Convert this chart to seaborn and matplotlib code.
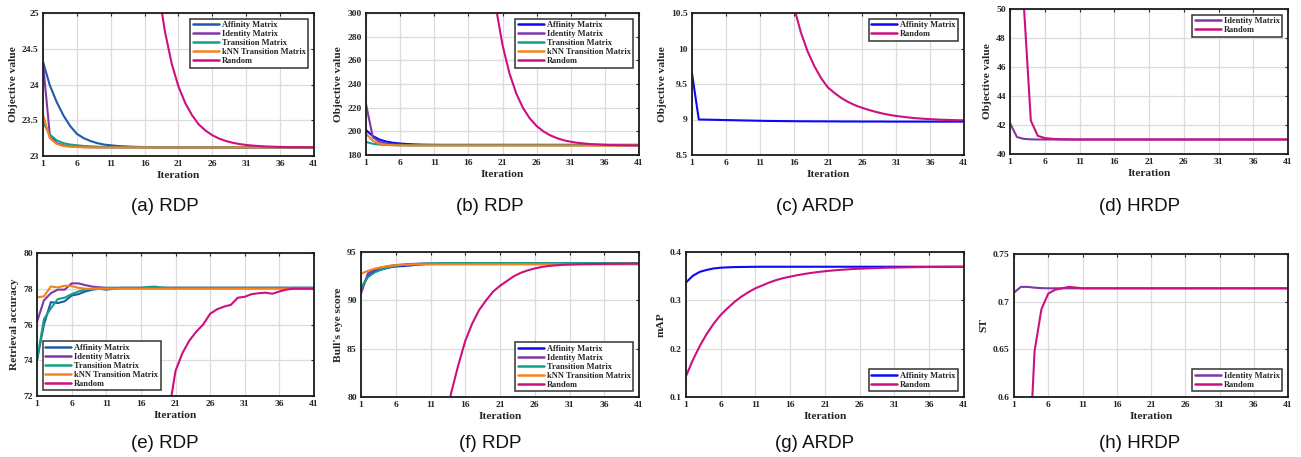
import matplotlib
matplotlib.use("Agg")
import matplotlib.pyplot as plt
import seaborn as sns

# ---------------- data ----------------
ITERATIONS = list(range(1, 42))
XTICKS = [1, 6, 11, 16, 21, 26, 31, 36, 41]

# (a) RDP objective value
a_affinity = [24.32, 23.99, 23.76, 23.57, 23.42, 23.31, 23.25, 23.21, 23.18, 23.16,
              23.15, 23.14, 23.135, 23.13, 23.127, 23.125, 23.123, 23.122, 23.121, 23.12,
              23.12, 23.12, 23.12, 23.12, 23.12, 23.12, 23.12, 23.12, 23.12, 23.12,
              23.12, 23.12, 23.12, 23.12, 23.12, 23.12, 23.12, 23.12, 23.12, 23.12, 23.12]
a_identity = [24.30, 23.30, 23.18, 23.15, 23.135, 23.128, 23.124, 23.122, 23.121, 23.12,
              23.12, 23.12, 23.12, 23.12, 23.12, 23.12, 23.12, 23.12, 23.12, 23.12,
              23.12, 23.12, 23.12, 23.12, 23.12, 23.12, 23.12, 23.12, 23.12, 23.12,
              23.12, 23.12, 23.12, 23.12, 23.12, 23.12, 23.12, 23.12, 23.12, 23.12, 23.12]
a_transition = [23.47, 23.30, 23.22, 23.18, 23.16, 23.15, 23.14, 23.135, 23.13, 23.127,
                23.125, 23.123, 23.122, 23.121, 23.12, 23.12, 23.12, 23.12, 23.12, 23.12,
                23.12, 23.12, 23.12, 23.12, 23.12, 23.12, 23.12, 23.12, 23.12, 23.12,
                23.12, 23.12, 23.12, 23.12, 23.12, 23.12, 23.12, 23.12, 23.12, 23.12, 23.12]
a_knn = [23.58, 23.25, 23.17, 23.14, 23.13, 23.125, 23.122, 23.121, 23.12, 23.12,
         23.12, 23.12, 23.12, 23.12, 23.12, 23.12, 23.12, 23.12, 23.12, 23.12,
         23.12, 23.12, 23.12, 23.12, 23.12, 23.12, 23.12, 23.12, 23.12, 23.12,
         23.12, 23.12, 23.12, 23.12, 23.12, 23.12, 23.12, 23.12, 23.12, 23.12, 23.12]
a_random = [551, 406, 301, 224, 169, 129, 100, 79, 63, 52,
            44.3, 38.5, 34.2, 31.2, 29.0, 27.4, 26.2, 25.35, 24.74, 24.29,
            23.97, 23.74, 23.57, 23.44, 23.355, 23.29, 23.243, 23.21, 23.185, 23.167,
            23.154, 23.145, 23.138, 23.133, 23.13, 23.127, 23.125, 23.124, 23.123, 23.122, 23.121]

# (b) RDP objective value
b_affinity = [201, 196, 193, 191.3, 190.3, 189.7, 189.3, 189.0, 188.8, 188.7,
              188.65, 188.6, 188.6, 188.6, 188.6, 188.6, 188.6, 188.6, 188.6, 188.6,
              188.6, 188.6, 188.6, 188.6, 188.6, 188.6, 188.6, 188.6, 188.6, 188.6,
              188.6, 188.6, 188.6, 188.6, 188.6, 188.6, 188.6, 188.6, 188.6, 188.6, 188.6]
b_identity = [223, 195, 191, 189.6, 189.0, 188.7, 188.5, 188.4, 188.4, 188.4,
              188.4, 188.4, 188.4, 188.4, 188.4, 188.4, 188.4, 188.4, 188.4, 188.4,
              188.4, 188.4, 188.4, 188.4, 188.4, 188.4, 188.4, 188.4, 188.4, 188.4,
              188.4, 188.4, 188.4, 188.4, 188.4, 188.4, 188.4, 188.4, 188.4, 188.4, 188.4]
b_transition = [191, 189.5, 188.8, 188.5, 188.3, 188.2, 188.2, 188.2, 188.2, 188.2,
                188.2, 188.2, 188.2, 188.2, 188.2, 188.2, 188.2, 188.2, 188.2, 188.2,
                188.2, 188.2, 188.2, 188.2, 188.2, 188.2, 188.2, 188.2, 188.2, 188.2,
                188.2, 188.2, 188.2, 188.2, 188.2, 188.2, 188.2, 188.2, 188.2, 188.2, 188.2]
b_knn = [198, 192, 189.5, 188.6, 188.3, 188.1, 188.0, 188.0, 188.0, 188.0,
         188.0, 188.0, 188.0, 188.0, 188.0, 188.0, 188.0, 188.0, 188.0, 188.0,
         188.0, 188.0, 188.0, 188.0, 188.0, 188.0, 188.0, 188.0, 188.0, 188.0,
         188.0, 188.0, 188.0, 188.0, 188.0, 188.0, 188.0, 188.0, 188.0, 188.0, 188.0]
b_random = [9000, 7000, 5500, 4300, 3400, 2700, 2150, 1750, 1450, 1210,
            1020, 870, 750, 640, 560, 490, 430, 385, 345, 306,
            273, 249.4, 232.2, 219.8, 210.9, 204.5, 199.9, 196.6, 194.2, 192.4,
            191.2, 190.3, 189.7, 189.2, 188.9, 188.6, 188.4, 188.3, 188.2, 188.15, 188.1]

# (c) ARDP objective value
c_affinity = [9.65, 9.0, 8.998, 8.996, 8.994, 8.992, 8.99, 8.988, 8.986, 8.984,
              8.982, 8.98, 8.979, 8.978, 8.977, 8.976, 8.975, 8.975, 8.974, 8.974,
              8.973, 8.973, 8.972, 8.972, 8.972, 8.971, 8.971, 8.971, 8.971, 8.97,
              8.97, 8.97, 8.97, 8.97, 8.97, 8.97, 8.97, 8.97, 8.97, 8.97, 8.97]
c_random = [90, 70, 55, 44, 36, 30, 25, 21.5, 18.7, 16.5,
            14.8, 13.5, 12.5, 11.7, 11.1, 10.58, 10.23, 9.96, 9.75, 9.58,
            9.45, 9.37, 9.30, 9.245, 9.2, 9.165, 9.135, 9.108, 9.085, 9.066,
            9.05, 9.038, 9.027, 9.018, 9.011, 9.005, 9.0, 8.996, 8.993, 8.99, 8.988]

# (d) HRDP objective value
d_identity = [42.13, 41.17, 41.04, 41.01, 41.0, 41.0, 41.0, 41.0, 41.0, 41.0,
              41.0, 41.0, 41.0, 41.0, 41.0, 41.0, 41.0, 41.0, 41.0, 41.0,
              41.0, 41.0, 41.0, 41.0, 41.0, 41.0, 41.0, 41.0, 41.0, 41.0,
              41.0, 41.0, 41.0, 41.0, 41.0, 41.0, 41.0, 41.0, 41.0, 41.0, 41.0]
d_random = [120, 85, 50.2, 42.3, 41.25, 41.1, 41.05, 41.02, 41.01, 41.0,
            41.0, 41.0, 41.0, 41.0, 41.0, 41.0, 41.0, 41.0, 41.0, 41.0,
            41.0, 41.0, 41.0, 41.0, 41.0, 41.0, 41.0, 41.0, 41.0, 41.0,
            41.0, 41.0, 41.0, 41.0, 41.0, 41.0, 41.0, 41.0, 41.0, 41.0, 41.0]

# (e) RDP retrieval accuracy
e_affinity = [74.0, 76.0, 77.25, 77.2, 77.3, 77.62, 77.7, 77.85, 77.95, 78.0,
              77.95, 78.0, 78.05, 78.05, 78.05, 78.05, 78.05, 78.05, 78.05, 78.05,
              78.05, 78.05, 78.05, 78.05, 78.05, 78.05, 78.05, 78.05, 78.05, 78.05,
              78.05, 78.05, 78.05, 78.05, 78.05, 78.05, 78.05, 78.05, 78.05, 78.05, 78.05]
e_identity = [76.15, 77.35, 77.75, 77.95, 77.95, 78.3, 78.3, 78.2, 78.12, 78.08,
              78.05, 78.05, 78.05, 78.05, 78.05, 78.05, 78.05, 78.05, 78.05, 78.05,
              78.05, 78.05, 78.05, 78.05, 78.05, 78.05, 78.05, 78.05, 78.05, 78.05,
              78.05, 78.05, 78.05, 78.05, 78.05, 78.05, 78.05, 78.05, 78.05, 78.05, 78.05]
e_transition = [74.0, 76.3, 76.9, 77.42, 77.5, 77.7, 77.85, 77.95, 78.0, 78.05,
                78.05, 78.05, 78.05, 78.05, 78.05, 78.05, 78.1, 78.12, 78.07, 78.05,
                78.05, 78.05, 78.05, 78.05, 78.05, 78.05, 78.05, 78.05, 78.05, 78.05,
                78.05, 78.05, 78.05, 78.05, 78.05, 78.05, 78.05, 78.05, 78.05, 78.05, 78.05]
e_knn = [77.52, 77.57, 78.13, 78.07, 78.17, 78.15, 78.05, 78.0, 78.0, 78.0,
         78.0, 78.0, 78.0, 78.0, 78.0, 78.0, 78.0, 78.0, 78.0, 78.0,
         78.0, 78.0, 78.0, 78.0, 78.0, 78.0, 78.0, 78.0, 78.0, 78.0,
         78.0, 78.0, 78.0, 78.0, 78.0, 78.0, 78.0, 78.0, 78.0, 78.0, 78.0]
e_random = [40, 45, 49, 52, 55, 57.5, 59.5, 61.3, 62.9, 64.3,
            65.5, 66.5, 67.4, 68.2, 68.9, 69.5, 70.0, 70.4, 70.7, 71.0,
            73.4, 74.4, 75.1, 75.6, 76.0, 76.6, 76.85, 77.0, 77.1, 77.5,
            77.55, 77.7, 77.75, 77.78, 77.72, 77.85, 77.95, 78.0, 78.0, 78.0, 78.0]

# (f) RDP bull's eye score
f_affinity = [91.2, 92.5, 93.0, 93.2, 93.4, 93.5, 93.55, 93.6, 93.68, 93.73,
              93.76, 93.78, 93.8, 93.8, 93.8, 93.8, 93.8, 93.8, 93.8, 93.8,
              93.8, 93.8, 93.8, 93.8, 93.8, 93.8, 93.8, 93.8, 93.8, 93.8,
              93.8, 93.8, 93.8, 93.8, 93.8, 93.8, 93.8, 93.8, 93.8, 93.8, 93.8]
f_identity = [90.7, 92.8, 93.2, 93.4, 93.55, 93.65, 93.7, 93.75, 93.78, 93.8,
              93.8, 93.8, 93.8, 93.8, 93.8, 93.8, 93.8, 93.8, 93.8, 93.8,
              93.8, 93.8, 93.8, 93.8, 93.8, 93.8, 93.8, 93.8, 93.8, 93.8,
              93.8, 93.8, 93.8, 93.8, 93.8, 93.8, 93.8, 93.8, 93.8, 93.8, 93.8]
f_transition = [91.3, 92.4, 92.9, 93.2, 93.4, 93.55, 93.65, 93.72, 93.77, 93.8,
                93.82, 93.84, 93.85, 93.85, 93.85, 93.85, 93.85, 93.85, 93.85, 93.85,
                93.85, 93.85, 93.85, 93.85, 93.85, 93.85, 93.85, 93.85, 93.85, 93.85,
                93.85, 93.85, 93.85, 93.85, 93.85, 93.85, 93.85, 93.85, 93.85, 93.85, 93.85]
f_knn = [92.75, 93.05, 93.28, 93.43, 93.55, 93.63, 93.68, 93.7, 93.72, 93.72,
         93.72, 93.72, 93.72, 93.72, 93.72, 93.72, 93.72, 93.72, 93.72, 93.72,
         93.72, 93.72, 93.72, 93.72, 93.72, 93.72, 93.72, 93.72, 93.72, 93.72,
         93.72, 93.72, 93.72, 93.72, 93.72, 93.72, 93.72, 93.72, 93.72, 93.72, 93.72]
f_random = [10, 18, 25.5, 32.5, 39, 45, 50.5, 55.5, 60.5, 65,
            69.3, 73.5, 77.2, 80.5, 83.3, 85.8, 87.6, 89.0, 90.0, 90.9,
            91.5, 92.0, 92.5, 92.85, 93.1, 93.3, 93.45, 93.55, 93.62, 93.67,
            93.7, 93.72, 93.74, 93.75, 93.76, 93.77, 93.78, 93.78, 93.79, 93.79, 93.8]

# (g) ARDP mAP
g_affinity = [0.337, 0.351, 0.359, 0.363, 0.366, 0.3675, 0.3683, 0.3688, 0.369, 0.3692,
              0.3694, 0.3695, 0.3695, 0.3695, 0.3695, 0.3695, 0.3695, 0.3695, 0.3695, 0.3695,
              0.3695, 0.3695, 0.3695, 0.3695, 0.3695, 0.3695, 0.3695, 0.3695, 0.3695, 0.3695,
              0.3695, 0.3695, 0.3695, 0.3695, 0.3695, 0.3695, 0.3695, 0.3695, 0.3695, 0.3695, 0.3695]
g_random = [0.143, 0.177, 0.206, 0.231, 0.252, 0.27, 0.284, 0.297, 0.308, 0.317,
            0.325, 0.331, 0.337, 0.342, 0.346, 0.349, 0.352, 0.3545, 0.3567, 0.3586,
            0.3602, 0.3616, 0.3628, 0.3638, 0.3647, 0.3654, 0.366, 0.3666, 0.367, 0.3675,
            0.3678, 0.3681, 0.3684, 0.3686, 0.3688, 0.369, 0.3691, 0.3692, 0.3693, 0.3694, 0.3695]

# (h) HRDP ST
h_identity = [0.7095, 0.7155, 0.7155, 0.7147, 0.7142, 0.714, 0.714, 0.714, 0.714, 0.714,
              0.714, 0.714, 0.714, 0.714, 0.714, 0.714, 0.714, 0.714, 0.714, 0.714,
              0.714, 0.714, 0.714, 0.714, 0.714, 0.714, 0.714, 0.714, 0.714, 0.714,
              0.714, 0.714, 0.714, 0.714, 0.714, 0.714, 0.714, 0.714, 0.714, 0.714, 0.714]
h_random = [0.2, 0.35, 0.498, 0.648, 0.692, 0.7085, 0.7125, 0.714, 0.7155, 0.7148,
            0.714, 0.714, 0.714, 0.714, 0.714, 0.714, 0.714, 0.714, 0.714, 0.714,
            0.714, 0.714, 0.714, 0.714, 0.714, 0.714, 0.714, 0.714, 0.714, 0.714,
            0.714, 0.714, 0.714, 0.714, 0.714, 0.714, 0.714, 0.714, 0.714, 0.714, 0.714]

LABELS = ["Affinity Matrix", "Identity Matrix", "Transition Matrix",
          "kNN Transition Matrix", "Random"]
CAPTIONS = ["(a) RDP", "(b) RDP", "(c) ARDP", "(d) HRDP",
            "(e) RDP", "(f) RDP", "(g) ARDP", "(h) HRDP"]

# ---------------- style ----------------
sns.set_style("white")
plt.rcParams["font.family"] = ["Liberation Serif", "DejaVu Sans"]
plt.rcParams["font.weight"] = "bold"

C_AFF_DARK = "#1E5AA8"
C_AFF_BLUE = "#0A0AF5"
C_IDE = "#7E38A8"
C_TRA = "#159F84"
C_KNN = "#F5821F"
C_RND = "#CC1080"
TXT = "#262626"

W, H = 1301, 457
fig = plt.figure(figsize=(W / 100, H / 100), dpi=100)


def px_rect(l, t, r, b):
    return [l / W, 1 - b / H, (r - l) / W, (b - t) / H]


panels = [
    dict(rect=(43, 13, 314, 156), ylim=(23, 25), yt=[23, 23.5, 24, 24.5, 25],
         ytl=["23", "23.5", "24", "24.5", "25"], ylabel="Objective value", loc="upper right",
         series=[(LABELS[0], a_affinity, C_AFF_DARK), (LABELS[1], a_identity, C_IDE),
                 (LABELS[2], a_transition, C_TRA), (LABELS[3], a_knn, C_KNN),
                 (LABELS[4], a_random, C_RND)]),
    dict(rect=(366, 13, 639, 155), ylim=(180, 300), yt=[180, 200, 220, 240, 260, 280, 300],
         ytl=["180", "200", "220", "240", "260", "280", "300"], ylabel="Objective value",
         loc="upper right",
         series=[(LABELS[0], b_affinity, C_AFF_BLUE), (LABELS[1], b_identity, C_IDE),
                 (LABELS[2], b_transition, C_TRA), (LABELS[3], b_knn, C_KNN),
                 (LABELS[4], b_random, C_RND)]),
    dict(rect=(692, 13, 964, 155), ylim=(8.5, 10.5), yt=[8.5, 9, 9.5, 10, 10.5],
         ytl=["8.5", "9", "9.5", "10", "10.5"], ylabel="Objective value", loc="upper right",
         series=[(LABELS[0], c_affinity, C_AFF_BLUE), (LABELS[4], c_random, C_RND)]),
    dict(rect=(1010, 9, 1288, 154), ylim=(40, 50), yt=[40, 42, 44, 46, 48, 50],
         ytl=["40", "42", "44", "46", "48", "50"], ylabel="Objective value", loc="upper right",
         series=[(LABELS[1], d_identity, C_IDE), (LABELS[4], d_random, C_RND)]),
    dict(rect=(37, 253, 314, 396), ylim=(72, 80), yt=[72, 74, 76, 78, 80],
         ytl=["72", "74", "76", "78", "80"], ylabel="Retrieval accuracy", loc="lower left",
         series=[(LABELS[0], e_affinity, C_AFF_DARK), (LABELS[1], e_identity, C_IDE),
                 (LABELS[2], e_transition, C_TRA), (LABELS[3], e_knn, C_KNN),
                 (LABELS[4], e_random, C_RND)]),
    dict(rect=(361, 252, 639, 397), ylim=(80, 95), yt=[80, 85, 90, 95],
         ytl=["80", "85", "90", "95"], ylabel="Bull's eye score", loc="lower right",
         series=[(LABELS[0], f_affinity, C_AFF_BLUE), (LABELS[1], f_identity, C_IDE),
                 (LABELS[2], f_transition, C_TRA), (LABELS[3], f_knn, C_KNN),
                 (LABELS[4], f_random, C_RND)]),
    dict(rect=(686, 252, 964, 397), ylim=(0.1, 0.4), yt=[0.1, 0.2, 0.3, 0.4],
         ytl=["0.1", "0.2", "0.3", "0.4"], ylabel="mAP", loc="lower right",
         series=[(LABELS[0], g_affinity, C_AFF_BLUE), (LABELS[4], g_random, C_RND)]),
    dict(rect=(1014, 254, 1288, 397), ylim=(0.6, 0.75), yt=[0.6, 0.65, 0.7, 0.75],
         ytl=["0.6", "0.65", "0.7", "0.75"], ylabel="ST", loc="lower right",
         series=[(LABELS[1], h_identity, C_IDE), (LABELS[4], h_random, C_RND)]),
]

for i, p in enumerate(panels):
    ax = fig.add_axes(px_rect(*p["rect"]))
    for name, vals, color in p["series"]:
        sns.lineplot(x=ITERATIONS, y=vals, ax=ax, color=color, linewidth=1.5, label=name)
    ax.set_xlim(1, 41)
    ax.set_ylim(*p["ylim"])
    ax.set_xticks(XTICKS)
    ax.set_xticklabels([str(t) for t in XTICKS])
    ax.set_yticks(p["yt"])
    ax.set_yticklabels(p["ytl"])
    ax.grid(True, color="#dcdcdc", linewidth=0.9)
    ax.set_axisbelow(True)
    for s in ax.spines.values():
        s.set_visible(True)
        s.set_color("#1a1a1a")
        s.set_linewidth(1.3)
    ax.tick_params(direction="in", length=2.5, width=0.8, top=True, right=True,
                   labelsize=6.8, colors=TXT, pad=3)
    for lab in ax.get_xticklabels() + ax.get_yticklabels():
        lab.set_fontweight("bold")
    ax.set_xlabel("Iteration", fontsize=8.2, fontweight="bold", color=TXT, labelpad=2)
    ax.set_ylabel(p["ylabel"], fontsize=8.2, fontweight="bold", color=TXT, labelpad=3)
    leg = ax.legend(loc=p["loc"], prop={"family": "Liberation Serif", "weight": "bold", "size": 6.0},
                    frameon=True, fancybox=False, framealpha=1, edgecolor="#333333",
                    handlelength=3.1, handletextpad=0.35, borderpad=0.3,
                    labelspacing=0.12, borderaxespad=0.7)
    leg.get_frame().set_linewidth(1.1)
    for ln in leg.get_lines():
        ln.set_linewidth(1.8)
    cx = 165 + 325 * (i % 4)
    cy = 206 if i < 4 else 444
    fig.text(cx / W, 1 - cy / H, CAPTIONS[i], fontsize=13.5, fontweight="normal",
             family=["Liberation Sans", "DejaVu Sans"], color="#111111",
             ha="center", va="center")

fig.savefig("out.png", dpi=100, facecolor="white")
